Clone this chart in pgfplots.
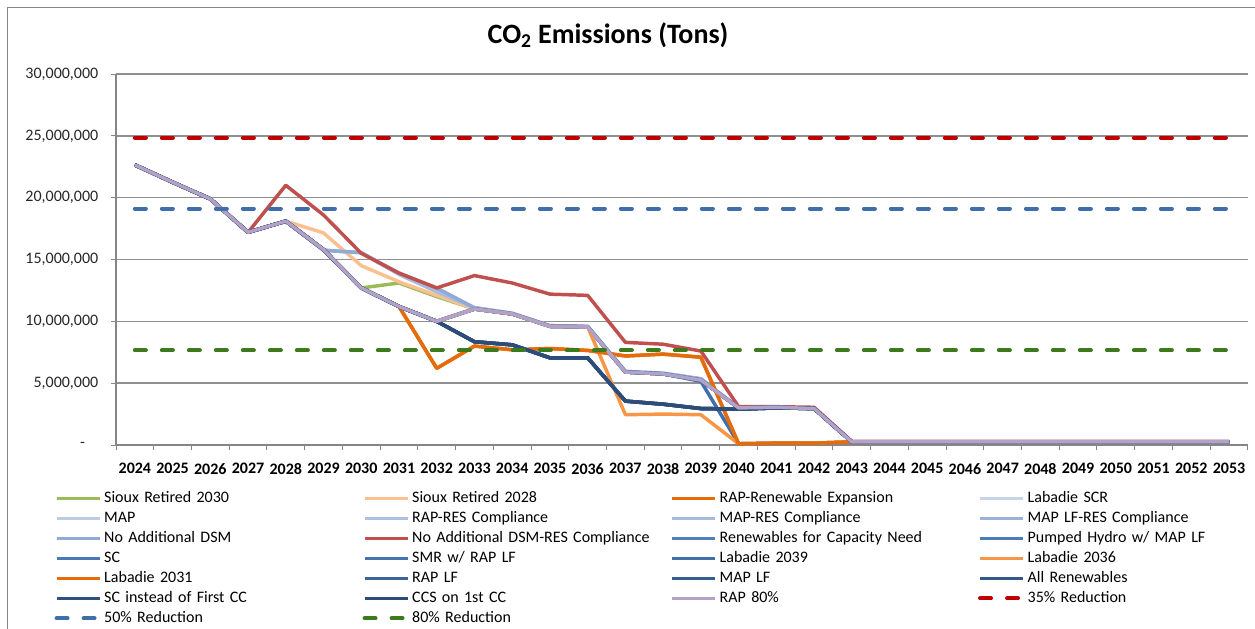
\documentclass[border=0pt]{standalone}
\usepackage{pgfplots}
\pgfplotsset{compat=1.18}
\usepackage{pgfplotstable}
\usepackage{fontspec}
\setmainfont{Carlito}

\definecolor{gridgray}{HTML}{909090}
\definecolor{axisgray}{HTML}{868686}
\definecolor{cS30}{HTML}{9BBB59}
\definecolor{cS28}{HTML}{FAC090}
\definecolor{cRex}{HTML}{E46C0A}
\definecolor{cLscr}{HTML}{C8D5E9}
\definecolor{cMap}{HTML}{BCCCE4}
\definecolor{cRapres}{HTML}{AEC0DF}
\definecolor{cMapres}{HTML}{A8BBDD}
\definecolor{cMaplfres}{HTML}{9AB2D9}
\definecolor{cNod}{HTML}{8FAAD6}
\definecolor{cNodr}{HTML}{C0504D}
\definecolor{cRen}{HTML}{4F81BD}
\definecolor{cPh}{HTML}{4A7CBB}
\definecolor{cSc}{HTML}{4878B6}
\definecolor{cSmr}{HTML}{4574B1}
\definecolor{cL39}{HTML}{426FAB}
\definecolor{cL36}{HTML}{F79646}
\definecolor{cL31}{HTML}{E46C0A}
\definecolor{cRaplf}{HTML}{3C639A}
\definecolor{cMaplf}{HTML}{385D91}
\definecolor{cAllren}{HTML}{355889}
\definecolor{cScfirst}{HTML}{30517F}
\definecolor{cCcs}{HTML}{2C4D7A}
\definecolor{cRap80}{HTML}{B3A2C7}
\definecolor{c35}{HTML}{C00000}
\definecolor{c50}{HTML}{3F6EA8}
\definecolor{c80}{HTML}{3D7A1E}

% emissions in tons; scenarios that run on the same path share a column
\pgfplotstableread{
year base s30 s28 rex mapv nod nodr l39 l36 lf
2024 22650000 22650000 22650000 22650000 22650000 22650000 22650000 22650000 22650000 22650000
2025 21250000 21250000 21250000 21250000 21250000 21250000 21250000 21250000 21250000 21250000
2026 19900000 19900000 19900000 19900000 19900000 19900000 19900000 19900000 19900000 19900000
2027 17200000 17200000 17200000 17200000 17200000 17200000 17200000 17200000 17200000 17200000
2028 18100000 18100000 18100000 18100000 18100000 18100000 21000000 18100000 18100000 18100000
2029 15800000 15800000 17150000 15800000 15750000 15750000 18600000 15800000 15800000 15800000
2030 12700000 12700000 14500000 12700000 15550000 15550000 15500000 12700000 12700000 12700000
2031 11200000 13100000 13200000 11200000 13800000 13900000 13900000 11200000 11200000 11200000
2032 10000000 12000000 12100000 6200000 12400000 12700000 12700000 10000000 10000000 10000000
2033 11000000 11000000 11000000 8000000 11100000 11100000 13700000 11000000 11000000 8350000
2034 10600000 10600000 10600000 7700000 10650000 10650000 13100000 10600000 10600000 8100000
2035 9600000 9600000 9600000 7800000 9650000 9650000 12200000 9600000 9600000 7050000
2036 9550000 9550000 9550000 7650000 9600000 9600000 12100000 9550000 9550000 7050000
2037 5900000 5900000 5900000 7200000 5950000 5950000 8300000 5900000 2450000 3550000
2038 5750000 5750000 5750000 7350000 5800000 5800000 8150000 5750000 2500000 3300000
2039 5250000 5250000 5250000 7100000 5350000 5350000 7600000 5150000 2450000 2950000
2040 3000000 3000000 3000000 100000 3000000 3000000 3100000 100000 100000 2900000
2041 3050000 3050000 3050000 150000 3050000 3050000 3100000 150000 150000 3000000
2042 2950000 2950000 2950000 150000 2950000 2950000 3050000 150000 150000 2950000
2043 250000 250000 250000 250000 250000 250000 300000 250000 250000 250000
2044 250000 250000 250000 250000 250000 250000 300000 250000 250000 250000
2045 250000 250000 250000 250000 250000 250000 300000 250000 250000 250000
2046 250000 250000 250000 250000 250000 250000 300000 250000 250000 250000
2047 250000 250000 250000 250000 250000 250000 300000 250000 250000 250000
2048 250000 250000 250000 250000 250000 250000 300000 250000 250000 250000
2049 250000 250000 250000 250000 250000 250000 300000 250000 250000 250000
2050 250000 250000 250000 250000 250000 250000 300000 250000 250000 250000
2051 250000 250000 250000 250000 250000 250000 300000 250000 250000 250000
2052 250000 250000 250000 250000 250000 250000 300000 250000 250000 250000
2053 250000 250000 250000 250000 250000 250000 300000 250000 250000 250000
}\co

\begin{document}
\begin{tikzpicture}
\useasboundingbox (0pt,0pt) rectangle (941.25pt,-471pt);
\draw[axisgray, line width=0.75pt] (5.25pt,-480pt) -- (5.25pt,-5.25pt) -- (950pt,-5.25pt);
\node[font=\fontsize{21}{25}\selectfont\bfseries] at (456pt,-26.5pt) {CO\textsubscript{2} Emissions (Tons)};
\begin{axis}[
  at={(87pt,-333.75pt)}, anchor=south west,
  scale only axis, width=849pt, height=278.25pt,
  xmin=2023.5, xmax=2053.5, ymin=0, ymax=30000000,
  clip=false,
  axis x line=bottom, axis y line=left,
  axis line style={-, draw=axisgray, line width=1pt},
  xtick={2024,...,2053},
  major x tick style={draw=none},
  minor xtick={2023.5,2024.5,...,2053.5},
  minor x tick style={draw=axisgray, line width=0.75pt},
  ytick={0,5000000,10000000,15000000,20000000,25000000,30000000},
  yticklabels={{-\hspace*{10pt}\mbox{}},{5,000,000},{10,000,000},{15,000,000},{20,000,000},{25,000,000},{30,000,000}},
  scaled y ticks=false,
  major y tick style={draw=axisgray, line width=0.75pt},
  tick align=outside,
  major tick length=3.75pt, minor tick length=3.75pt,
  ymajorgrids, grid style={draw=gridgray, line width=1.1pt},
  /pgf/number format/assume math mode=true,
  /pgf/number format/1000 sep={},
  tick label style={font=\fontsize{12}{14}\selectfont, text=black!85},
  yticklabel style={xshift=-6pt},
  xticklabel style={font=\fontsize{12}{14}\selectfont\bfseries, text=black, yshift=-6.5pt},
  legend columns=4,
  legend cell align=left,
  legend image code/.code={\draw[#1] (0pt,0pt) -- (32.25pt,0pt);},
  legend style={at={(-0.0545,-0.1213)}, anchor=north west, draw=none, fill=none,
    inner sep=0pt, row sep=3pt,
    font=\fontsize{12}{14}\selectfont,
    nodes={text width=193.75pt, align=left, inner xsep=0pt, inner ysep=0pt,
      text height=9pt, text depth=3pt},
    /tikz/every odd column/.append style={column sep=2pt}},
  ser/.style={line width=2.6pt, line join=round, no markers},
  refl/.style={line width=3pt, line cap=round, dash pattern=on 8.25pt off 12pt, no markers},
]
\addplot[ser, cS30] table[x=year, y=s30] {\co};
\addlegendentry{Sioux Retired 2030}
\addplot[ser, cS28] table[x=year, y=s28] {\co};
\addlegendentry{Sioux Retired 2028}
\addplot[ser, cRex] table[x=year, y=rex] {\co};
\addlegendentry{RAP-Renewable Expansion}
\addplot[ser, cLscr] table[x=year, y=base] {\co};
\addlegendentry{Labadie SCR}
\addplot[ser, cMap] table[x=year, y=mapv] {\co};
\addlegendentry{MAP}
\addplot[ser, cRapres] table[x=year, y=base] {\co};
\addlegendentry{RAP-RES Compliance}
\addplot[ser, cMapres] table[x=year, y=mapv] {\co};
\addlegendentry{MAP-RES Compliance}
\addplot[ser, cMaplfres] table[x=year, y=base] {\co};
\addlegendentry{MAP LF-RES Compliance}
\addplot[ser, cNod] table[x=year, y=nod] {\co};
\addlegendentry{No Additional DSM}
\addplot[ser, cNodr] table[x=year, y=nodr] {\co};
\addlegendentry{No Additional DSM-RES Compliance}
\addplot[ser, cRen] table[x=year, y=base] {\co};
\addlegendentry{Renewables for Capacity Need}
\addplot[ser, cPh] table[x=year, y=base] {\co};
\addlegendentry{Pumped Hydro w/ MAP LF}
\addplot[ser, cSc] table[x=year, y=base] {\co};
\addlegendentry{SC}
\addplot[ser, cSmr] table[x=year, y=base] {\co};
\addlegendentry{SMR w/ RAP LF}
\addplot[ser, cL39] table[x=year, y=l39] {\co};
\addlegendentry{Labadie 2039}
\addplot[ser, cL36] table[x=year, y=l36] {\co};
\addlegendentry{Labadie 2036}
\addplot[ser, cL31] table[x=year, y=rex] {\co};
\addlegendentry{Labadie 2031}
\addplot[ser, cRaplf] table[x=year, y=lf] {\co};
\addlegendentry{RAP LF}
\addplot[ser, cMaplf] table[x=year, y=lf] {\co};
\addlegendentry{MAP LF}
\addplot[ser, cAllren] table[x=year, y=lf] {\co};
\addlegendentry{All Renewables}
\addplot[ser, cScfirst] table[x=year, y=lf] {\co};
\addlegendentry{SC instead of First CC}
\addplot[ser, cCcs] table[x=year, y=lf] {\co};
\addlegendentry{CCS on 1st CC}
\addplot[ser, cRap80] table[x=year, y=base] {\co};
\addlegendentry{RAP 80\%}
\addplot[refl, c35] coordinates {(2024,24850000) (2053,24850000)};
\addlegendentry{35\% Reduction}
\addplot[refl, c50] coordinates {(2024,19120000) (2053,19120000)};
\addlegendentry{50\% Reduction}
\addplot[refl, c80] coordinates {(2024,7650000) (2053,7650000)};
\addlegendentry{80\% Reduction}
\end{axis}
\end{tikzpicture}
\end{document}
